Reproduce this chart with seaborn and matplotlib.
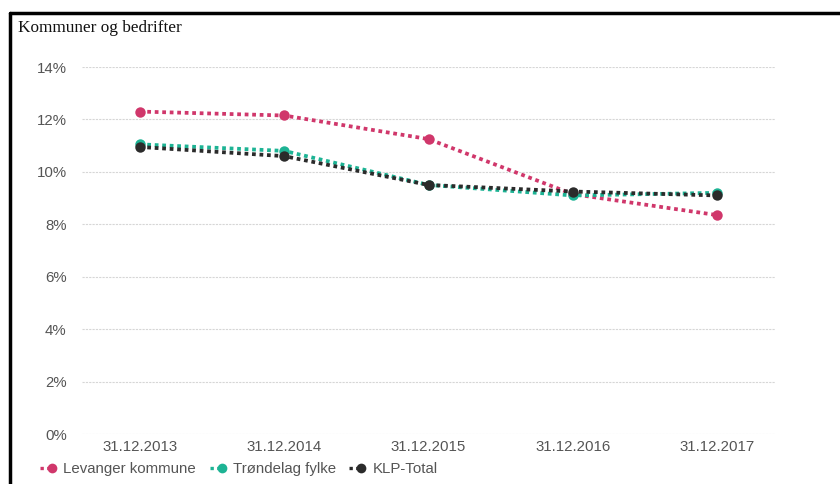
import matplotlib
matplotlib.use("Agg")
import matplotlib.pyplot as plt
from matplotlib.lines import Line2D
from matplotlib.legend_handler import HandlerLine2D
import seaborn as sns
import pandas as pd

dates = ["31.12.2013", "31.12.2014", "31.12.2015", "31.12.2016", "31.12.2017"]
levanger = [12.3, 12.15, 11.25, 9.15, 8.35]
trondelag = [11.05, 10.8, 9.5, 9.1, 9.2]
klp_total = [10.95, 10.6, 9.5, 9.25, 9.1]

series_names = ["Levanger kommune", "Trøndelag fylke", "KLP-Total"]
series_values = [levanger, trondelag, klp_total]
colors = ["#d0376b", "#1db394", "#2b2b2b"]

yticks = [0, 2, 4, 6, 8, 10, 12, 14]

sns.set_theme(style="white")
plt.rcParams["font.family"] = ["Liberation Sans", "DejaVu Sans"]


class MarkerAtEnd(HandlerLine2D):
    """Legend key: a short dotted stub with the marker at its right end."""

    def create_artists(self, legend, orig_handle, xdescent, ydescent, width,
                       height, fontsize, trans):
        artists = super().create_artists(legend, orig_handle, xdescent, ydescent,
                                         width, height, fontsize, trans)
        for a in artists:
            if isinstance(a, Line2D) and a.get_markevery() is not None:
                a.set_markevery([len(a.get_xdata()) - 1])
        return artists


fig = plt.figure(figsize=(8.4, 4.84), dpi=100)
ax = fig.add_axes([82 / 840, 1 - 434 / 484, (775 - 82) / 840, (434 - 67) / 484])

dot = (0, (1, 1))
for name, vals, col in zip(series_names, series_values, colors):
    df = pd.DataFrame({"pos": range(len(dates)), "value": vals})
    sns.lineplot(data=df, x="pos", y="value", ax=ax, color=col, marker="o",
                 markersize=7.5, markeredgewidth=0, linewidth=2.7,
                 linestyle=dot, legend=False)

ax.set_xlim(-0.4, 4.4)
ax.set_ylim(0, 14)
ax.set_yticks(yticks)
ax.set_yticklabels([f"{t}%" for t in yticks])
ax.set_xticks(range(len(dates)))
ax.set_xticklabels(dates)
ax.set_xlabel("")
ax.set_ylabel("")
ax.tick_params(axis="both", length=0, labelsize=10.8, labelcolor="#555555")
ax.tick_params(axis="y", pad=11)
ax.tick_params(axis="x", pad=4)
ax.grid(axis="y", color="#d6d6d6", linestyle=(0, (2, 1)), linewidth=0.8)
ax.set_axisbelow(True)
for s in ax.spines.values():
    s.set_visible(False)

fig.text(18 / 840, 1 - 32 / 484, "Kommuner og bedrifter",
         family=["Liberation Serif", "DejaVu Serif"],
         fontsize=12.4, color="#111111", va="baseline", ha="left")

handles = [Line2D([0], [0], color=c, marker="o", markersize=7, markeredgewidth=0,
                  linewidth=2.4, linestyle=dot) for c in colors]
fig.legend(handles, series_names, loc="center left", bbox_to_anchor=(34 / 840, 1 - 469 / 484),
           ncol=3, frameon=False, fontsize=10.8, handlelength=0.8, handletextpad=0.75,
           columnspacing=0.9, labelcolor="#555555", borderaxespad=0,
           handler_map={Line2D: MarkerAtEnd()})

# black frame on the top and left edges
fig.add_artist(Line2D([10 / 840, 1], [1 - 13 / 484, 1 - 13 / 484], color="black", linewidth=2.5,
                      transform=fig.transFigure))
fig.add_artist(Line2D([10 / 840, 10 / 840], [0, 1 - 13 / 484], color="black", linewidth=2.5,
                      transform=fig.transFigure))

fig.savefig("out.png", dpi=100, facecolor="white")
